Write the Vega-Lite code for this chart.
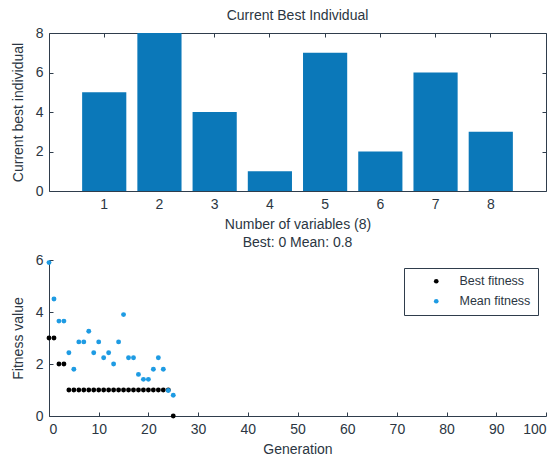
{
  "$schema": "https://vega.github.io/schema/vega-lite/v6.json",
  "padding": {"left": 10, "top": 8, "right": 5, "bottom": 0},
  "background": "white",
  "config": {
    "font": "Liberation Sans",
    "title": {"fontSize": 14, "fontWeight": "normal", "color": "#2b3642", "offset": 3, "frame": "group"},
    "axis": {
      "labelFontSize": 14, "titleFontSize": 14, "titleFontWeight": "normal",
      "labelColor": "#2b3642", "titleColor": "#2b3642",
      "domainColor": "#2f3d4c", "tickColor": "#2f3d4c",
      "grid": false, "tickSize": -4, "labelPadding": 10
    },
    "axisY": {"titlePadding": 10},
    "axisX": {"titlePadding": 6},
    "legend": {"labelFontSize": 12.5, "labelColor": "#2b3642"}
  },
  "concat": [
    {
      "width": 497, "height": 158,
      "title": "Current Best Individual",
      "view": {"stroke": "#2f3d4c"},
      "data": {"values": [
        {"var": 1, "value": 5}, {"var": 2, "value": 8}, {"var": 3, "value": 4}, {"var": 4, "value": 1},
        {"var": 5, "value": 7}, {"var": 6, "value": 2}, {"var": 7, "value": 6}, {"var": 8, "value": 3}
      ]},
      "layer": [
        {
          "mark": {"type": "bar", "color": "#0b78b9"},
          "encoding": {
            "x": {"field": "var", "type": "ordinal", "scale": {"paddingInner": 0.2, "paddingOuter": 0.6},
                  "axis": {"title": "Number of variables (8)", "labelAngle": 0, "domain": false}},
            "y": {"field": "value", "type": "quantitative", "scale": {"domain": [0, 8]},
                  "axis": {"title": "Current best individual", "values": [0, 2, 4, 6, 8], "domain": false}}
          }
        },
        {
          "mark": {"type": "bar", "opacity": 0},
          "encoding": {
            "x": {"field": "var", "type": "ordinal", "axis": {"orient": "top", "labels": false, "title": null, "domain": false}},
            "y": {"field": "value", "type": "quantitative", "axis": {"orient": "right", "labels": false, "title": null, "domain": false, "values": [0, 2, 4, 6, 8]}}
          }
        }
      ],
      "resolve": {"axis": {"x": "independent", "y": "independent"}}
    },
    {
      "width": 497, "height": 156,
      "title": "Best: 0 Mean: 0.8",
      "view": {"stroke": null},
      "data": {"values": [
        {"gen": 0, "fitness": 3, "series": "Best fitness"},
        {"gen": 1, "fitness": 3, "series": "Best fitness"},
        {"gen": 2, "fitness": 2, "series": "Best fitness"},
        {"gen": 3, "fitness": 2, "series": "Best fitness"},
        {"gen": 4, "fitness": 1, "series": "Best fitness"},
        {"gen": 5, "fitness": 1, "series": "Best fitness"},
        {"gen": 6, "fitness": 1, "series": "Best fitness"},
        {"gen": 7, "fitness": 1, "series": "Best fitness"},
        {"gen": 8, "fitness": 1, "series": "Best fitness"},
        {"gen": 9, "fitness": 1, "series": "Best fitness"},
        {"gen": 10, "fitness": 1, "series": "Best fitness"},
        {"gen": 11, "fitness": 1, "series": "Best fitness"},
        {"gen": 12, "fitness": 1, "series": "Best fitness"},
        {"gen": 13, "fitness": 1, "series": "Best fitness"},
        {"gen": 14, "fitness": 1, "series": "Best fitness"},
        {"gen": 15, "fitness": 1, "series": "Best fitness"},
        {"gen": 16, "fitness": 1, "series": "Best fitness"},
        {"gen": 17, "fitness": 1, "series": "Best fitness"},
        {"gen": 18, "fitness": 1, "series": "Best fitness"},
        {"gen": 19, "fitness": 1, "series": "Best fitness"},
        {"gen": 20, "fitness": 1, "series": "Best fitness"},
        {"gen": 21, "fitness": 1, "series": "Best fitness"},
        {"gen": 22, "fitness": 1, "series": "Best fitness"},
        {"gen": 23, "fitness": 1, "series": "Best fitness"},
        {"gen": 24, "fitness": 1, "series": "Best fitness"},
        {"gen": 25, "fitness": 0, "series": "Best fitness"},
        {"gen": 0, "fitness": 5.9, "series": "Mean fitness"},
        {"gen": 1, "fitness": 4.5, "series": "Mean fitness"},
        {"gen": 2, "fitness": 3.65, "series": "Mean fitness"},
        {"gen": 3, "fitness": 3.65, "series": "Mean fitness"},
        {"gen": 4, "fitness": 2.43, "series": "Mean fitness"},
        {"gen": 5, "fitness": 1.8, "series": "Mean fitness"},
        {"gen": 6, "fitness": 2.85, "series": "Mean fitness"},
        {"gen": 7, "fitness": 2.85, "series": "Mean fitness"},
        {"gen": 8, "fitness": 3.26, "series": "Mean fitness"},
        {"gen": 9, "fitness": 2.43, "series": "Mean fitness"},
        {"gen": 10, "fitness": 2.85, "series": "Mean fitness"},
        {"gen": 11, "fitness": 2.24, "series": "Mean fitness"},
        {"gen": 12, "fitness": 2.43, "series": "Mean fitness"},
        {"gen": 13, "fitness": 2.0, "series": "Mean fitness"},
        {"gen": 14, "fitness": 2.85, "series": "Mean fitness"},
        {"gen": 15, "fitness": 3.9, "series": "Mean fitness"},
        {"gen": 16, "fitness": 2.24, "series": "Mean fitness"},
        {"gen": 17, "fitness": 2.24, "series": "Mean fitness"},
        {"gen": 18, "fitness": 1.6, "series": "Mean fitness"},
        {"gen": 19, "fitness": 1.41, "series": "Mean fitness"},
        {"gen": 20, "fitness": 1.41, "series": "Mean fitness"},
        {"gen": 21, "fitness": 1.8, "series": "Mean fitness"},
        {"gen": 22, "fitness": 2.24, "series": "Mean fitness"},
        {"gen": 23, "fitness": 1.8, "series": "Mean fitness"},
        {"gen": 24, "fitness": 0.98, "series": "Mean fitness"},
        {"gen": 25, "fitness": 0.8, "series": "Mean fitness"}
      ]},
      "mark": {"type": "point", "filled": true, "size": 24, "opacity": 1},
      "encoding": {
        "x": {"field": "gen", "type": "quantitative", "scale": {"domain": [0, 100], "nice": false},
              "axis": {"title": "Generation", "values": [0, 10, 20, 30, 40, 50, 60, 70, 80, 90, 100]}},
        "y": {"field": "fitness", "type": "quantitative", "scale": {"domain": [0, 6], "nice": false},
              "axis": {"title": "Fitness value", "values": [0, 2, 4, 6]}},
        "color": {"field": "series", "type": "nominal",
                  "scale": {"domain": ["Best fitness", "Mean fitness"], "range": ["#000000", "#1e9be3"]},
                  "legend": {"title": null, "orient": "top-right", "offset": 8, "strokeColor": "#2f3d4c", "fillColor": "white",
                             "padding": 7, "symbolSize": 22, "symbolOffset": 19, "labelOffset": 17, "rowPadding": 7,
                             "symbolType": "circle"}}
      }
    }
  ],
  "resolve": {"legend": {"color": "independent"}},
  "columns": 1,
  "align": "all",
  "spacing": 4
}
